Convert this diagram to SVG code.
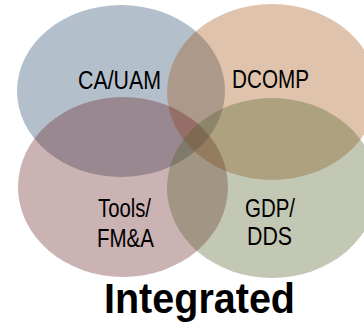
<svg xmlns="http://www.w3.org/2000/svg" width="364" height="330" viewBox="0 0 364 330">
<style>
.c{fill-opacity:0.35}
.t{font-family:"Liberation Sans",Arial,sans-serif;font-size:25px;fill:#000;text-anchor:middle}
.b{font-family:"Liberation Sans",Arial,sans-serif;font-size:42px;font-weight:bold;fill:#000;text-anchor:middle}
</style>
<rect width="364" height="330" fill="#fff"/>
<g id="ca-uam"><ellipse class="c" cx="121" cy="91" rx="104" ry="86" fill="#264868"/></g>
<g id="dcomp"><ellipse class="c" cx="272" cy="92" rx="105" ry="88" fill="#a35314"/></g>
<g id="tools"><ellipse class="c" cx="123" cy="187" rx="105" ry="90" fill="#6a2326"/></g>
<g id="gdp"><ellipse class="c" cx="272" cy="188" rx="105" ry="90" fill="#54622c"/></g>
<g id="labels">
<text class="t" x="119.5" y="89" textLength="83" lengthAdjust="spacingAndGlyphs">CA/UAM</text>
<text class="t" x="270.5" y="88" textLength="77" lengthAdjust="spacingAndGlyphs">DCOMP</text>
<text class="t" x="124.5" y="217" textLength="53" lengthAdjust="spacingAndGlyphs">Tools/</text>
<text class="t" x="125.5" y="247" textLength="57" lengthAdjust="spacingAndGlyphs">FM&amp;A</text>
<text class="t" x="270" y="217" textLength="50" lengthAdjust="spacingAndGlyphs">GDP/</text>
<text class="t" x="269.5" y="245" textLength="45" lengthAdjust="spacingAndGlyphs">DDS</text>
<text class="b" x="199.5" y="313" textLength="191" lengthAdjust="spacingAndGlyphs">Integrated</text>
</g>
</svg>
